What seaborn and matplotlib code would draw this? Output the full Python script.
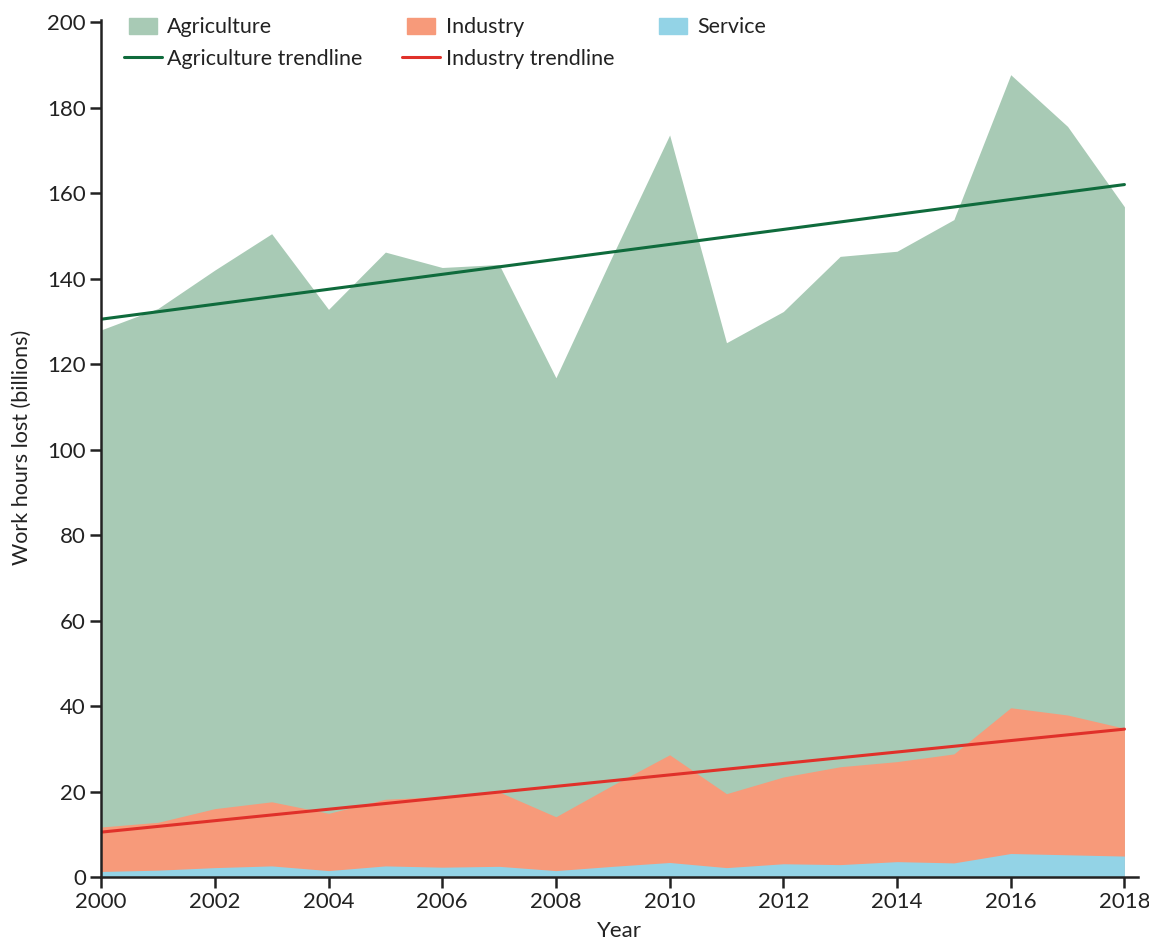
import matplotlib.pyplot as plt
from matplotlib.patches import Patch, Rectangle
from matplotlib.lines import Line2D
from matplotlib.legend_handler import HandlerPatch
import numpy as np
import pandas as pd
import seaborn as sns

# values (billions of work hours lost)
years = list(range(2000, 2019))
agriculture = [128, 133, 142, 150.5, 132.8, 146.2, 142.6, 143.3, 116.8, 145.5,
               173.6, 125.0, 132.3, 145.2, 146.4, 153.8, 187.7, 175.6, 156.8]
industry = [11.7, 12.8, 16.0, 17.6, 14.9, 18.2, 18.8, 19.9, 14.1, 21.5,
            28.6, 19.5, 23.4, 25.8, 27.0, 28.8, 39.6, 37.9, 34.8]
service = [1.3, 1.6, 2.2, 2.6, 1.5, 2.6, 2.3, 2.5, 1.5, 2.5,
           3.4, 2.2, 3.1, 2.9, 3.6, 3.3, 5.5, 5.2, 4.9]

trend_years = [2000, 2018]
agri_trend = [130.5, 162.0]
industry_trend = [10.5, 34.6]

df = pd.DataFrame({"year": years, "Agriculture": agriculture,
                   "Industry": industry, "Service": service})
trend = pd.DataFrame({"year": trend_years, "agri": agri_trend, "ind": industry_trend})

c_agri, c_ind, c_serv = "#a8cab5", "#f79a7a", "#93d3e6"
c_agri_line, c_ind_line = "#0f6b3c", "#e0312a"
ink = "#222222"

sns.set_style("ticks")
plt.rcParams['font.family'] = ['Lato', 'DejaVu Sans']

fig = plt.figure(figsize=(11.49, 9.40), dpi=100)
ax = fig.add_axes([0.088, 0.067, 0.902, 0.914])

# overlapping areas, each drawn from zero
ax.fill_between(df["year"], 0, df["Agriculture"], color=c_agri, lw=0)
ax.fill_between(df["year"], 0, df["Industry"], color=c_ind, lw=0)
ax.fill_between(df["year"], 0, df["Service"], color=c_serv, lw=0)

sns.lineplot(data=trend, x="year", y="agri", color=c_agri_line, lw=2.2, ax=ax)
sns.lineplot(data=trend, x="year", y="ind", color=c_ind_line, lw=2.2, ax=ax)

ax.set_xlim(2000, 2018.23)
ax.set_ylim(0, 201)
ax.set_xticks(range(2000, 2019, 2))
ax.set_yticks(range(0, 201, 20))
sns.despine(ax=ax)
for side in ["left", "bottom"]:
    ax.spines[side].set_linewidth(1.8)
    ax.spines[side].set_color(ink)
ax.spines["left"].set_bounds(0, 200.5)
ax.tick_params(axis="both", direction="out", length=8, width=1.8,
               color=ink, labelsize=16, labelcolor=ink, pad=3)

ax.set_xlabel("Year", fontsize=16, color=ink, labelpad=6)
ax.set_ylabel("Work hours lost (billions)", fontsize=15.5, color=ink, labelpad=11)


# legend patches are a bit narrower than the line handles
def small_patch(legend, orig_handle, xdescent, ydescent, width, height, fontsize):
    inset = width * 0.13
    return Rectangle((-xdescent + inset, -ydescent), width - 2 * inset, height)


handles = [Patch(color=c_agri, label="Agriculture"),
           Line2D([], [], color=c_agri_line, lw=2.2, label="Agriculture trendline"),
           Patch(color=c_ind, label="Industry"),
           Line2D([], [], color=c_ind_line, lw=2.2, label="Industry trendline"),
           Patch(color=c_serv, label="Service")]
ax.legend(handles=handles, ncol=3, loc="upper left", bbox_to_anchor=(0.003, 1.023),
          frameon=False, fontsize=15.5, handlelength=1.77, handleheight=0.8,
          handletextpad=0.25, columnspacing=1.85, labelspacing=0.52,
          labelcolor=ink, handler_map={Patch: HandlerPatch(patch_func=small_patch)})

fig.savefig("out.png", dpi=100)
